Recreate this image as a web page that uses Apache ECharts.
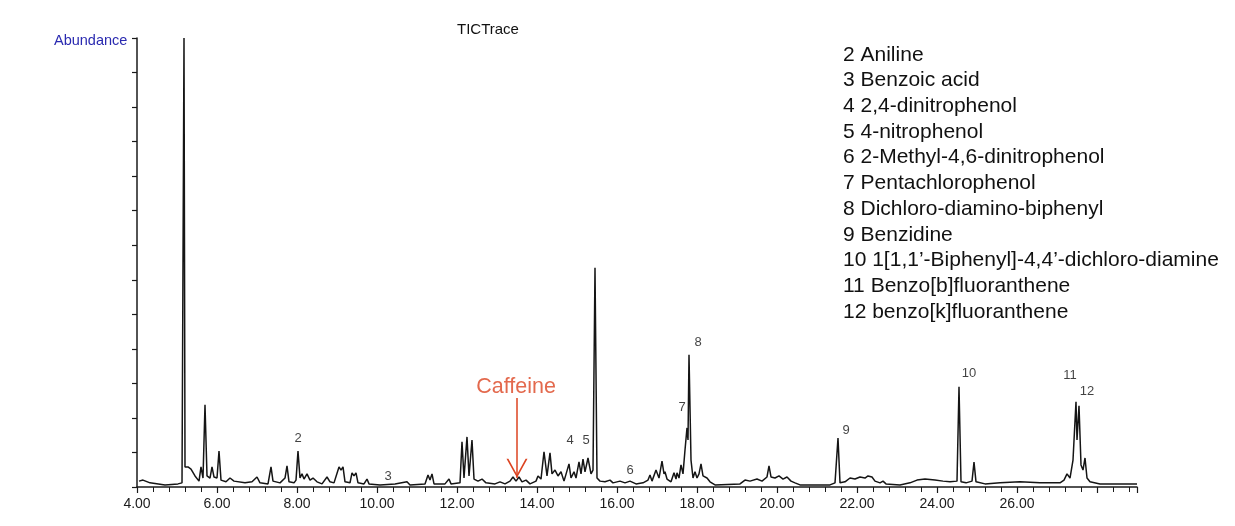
<!DOCTYPE html>
<html>
<head>
<meta charset="utf-8">
<script src="https://cdn.jsdelivr.net/npm/echarts@6/dist/echarts.min.js"></script>
<style>html,body{margin:0;padding:0;background:#fff}#c{width:1235px;height:526px}</style>
</head>
<body>
<div id="c"></div>
<script>
// Retention time (min) and abundance (arbitrary units)
const retentionTimes = [4.05,4.15,4.325,4.70,5.025,5.125,5.175,5.20,5.275,5.35,5.45,5.55,5.60,5.65,5.70,5.75,5.825,5.875,5.925,6.00,6.05,6.10,6.225,6.325,6.425,6.70,6.875,7.00,7.075,7.275,7.35,7.40,7.575,7.70,7.75,7.80,7.925,7.975,8.025,8.075,8.125,8.175,8.25,8.325,8.40,8.50,8.625,8.75,8.825,8.925,9.05,9.10,9.15,9.20,9.325,9.375,9.425,9.475,9.525,9.675,9.75,9.80,10.075,10.45,10.75,10.825,11.20,11.275,11.325,11.375,11.425,11.70,11.80,11.85,12.075,12.125,12.175,12.25,12.30,12.375,12.425,12.525,12.625,12.725,12.95,13.075,13.20,13.325,13.40,13.475,13.55,13.625,13.725,13.825,13.975,14.025,14.10,14.175,14.25,14.325,14.375,14.45,14.525,14.60,14.675,14.725,14.80,14.85,14.925,14.975,15.05,15.10,15.15,15.20,15.275,15.35,15.40,15.45,15.50,15.575,15.70,15.825,15.90,16.075,16.20,16.325,16.475,16.65,16.775,16.825,16.875,16.975,17.05,17.125,17.175,17.20,17.25,17.35,17.425,17.475,17.50,17.55,17.60,17.65,17.70,17.75,17.775,17.80,17.85,17.90,17.95,18.00,18.05,18.10,18.15,18.25,18.325,18.45,19.075,19.20,19.325,19.50,19.625,19.75,19.80,19.85,19.95,20.05,20.15,20.25,20.35,20.45,20.575,21.325,21.45,21.525,21.575,21.70,21.825,21.95,22.075,22.20,22.275,22.375,22.45,22.575,22.65,22.725,23.075,23.325,23.50,23.70,23.95,24.15,24.325,24.50,24.55,24.60,24.725,24.875,24.925,24.975,25.20,25.575,26.075,26.575,27.075,27.175,27.25,27.325,27.40,27.475,27.50,27.55,27.60,27.65,27.70,27.75,27.825,28.075,28.575,29.0];
const abundances = [17,20,12,6,9,12,1300,58,58,52,32,17,58,26,238,32,26,58,29,26,104,20,15,26,17,12,15,29,12,9,58,17,12,26,61,15,12,20,104,26,38,23,38,20,26,15,9,29,15,12,58,49,58,15,12,41,32,41,12,9,23,9,6,9,15,6,9,35,20,38,9,9,23,9,12,131,26,145,32,136,23,17,23,12,9,15,9,17,29,17,29,15,20,9,17,32,23,102,32,99,38,49,32,44,17,12,67,26,44,26,73,38,81,44,84,38,49,635,26,17,15,20,12,17,12,17,9,12,20,35,17,49,26,75,38,44,23,15,41,23,41,26,64,38,107,171,136,383,78,26,44,26,38,67,32,26,15,6,9,20,17,23,17,29,61,29,26,32,23,29,17,12,6,6,12,142,12,15,26,23,29,26,32,29,17,12,17,9,6,12,20,23,20,17,15,17,290,15,12,17,72,15,9,12,15,12,12,20,38,26,78,247,136,235,64,49,84,26,15,9,9,9];

const peakLabels = ['2','3','4','5','6','7','8','9','10','11','12'];
const peakLabelTimes = [8.025,10.275,14.825,15.225,16.325,17.625,18.025,21.725,24.80,27.325,27.75];
const peakLabelAbund = [142,32,136,136,49,229,418,165,328,322,276];

const compoundNames = [
  '2 Aniline','3 Benzoic acid','4 2,4-dinitrophenol','5 4-nitrophenol',
  '6 2-Methyl-4,6-dinitrophenol','7 Pentachlorophenol','8 Dichloro-diamino-biphenyl',
  '9 Benzidine','10 1[1,1\u2019-Biphenyl]-4,4\u2019-dichloro-diamine',
  '11 Benzo[b]fluoranthene','12 benzo[k]fluoranthene'
];
const caffeine = {name:'Caffeine', time:13.5, labelAbund:290, arrowFrom:258, arrowTo:26, headCenter:54};
const xTickLabels = ['4.00','6.00','8.00','10.00','12.00','14.00','16.00','18.00','20.00','22.00','24.00','26.00'];

const traceData = retentionTimes.map((t,i)=>[t,abundances[i]]);
const labelData = peakLabels.map((n,i)=>({name:n, value:[peakLabelTimes[i], peakLabelAbund[i]]}));
const FONT = '"Liberation Sans", Arial, sans-serif';
const RED = '#dc4320';

const chart = echarts.init(document.getElementById('c'), null, {renderer:'canvas'});
chart.setOption({
  animation:false,
  backgroundColor:'#fff',
  grid:{left:137, right:98, top:38, bottom:39},
  xAxis:{
    type:'value', min:4, max:29, interval:2,
    axisLine:{lineStyle:{color:'#1a1a1a', width:1.5}},
    axisTick:{show:true, length:6, lineStyle:{color:'#1a1a1a', width:1.2}},
    minorTick:{show:true, splitNumber:5, length:5, lineStyle:{color:'#1a1a1a', width:1}},
    splitLine:{show:false},
    axisLabel:{
      margin:10, color:'#1a1a1a', fontFamily:FONT, fontSize:14,
      formatter:function(v){const s=v.toFixed(2); return xTickLabels.indexOf(s)>=0?s:'';}
    }
  },
  yAxis:{
    type:'value', min:0, max:1300, interval:100,
    axisLine:{show:true, lineStyle:{color:'#1a1a1a', width:1.5}},
    axisTick:{show:true, length:5, lineStyle:{color:'#1a1a1a', width:1.2}},
    axisLabel:{show:false},
    splitLine:{show:false}
  },
  series:[
    {
      type:'line', data:traceData, showSymbol:false, symbol:'none', clip:true,
      lineStyle:{color:'#151515', width:1.5},
      markLine:{
        silent:true, symbol:['none','none'],
        lineStyle:{color:RED, width:1.5, type:'solid'},
        label:{show:false},
        data:[[{coord:[caffeine.time, caffeine.arrowFrom]},{coord:[caffeine.time, caffeine.arrowTo]}]]
      },
      markPoint:{
        silent:true,
        symbol:'path://M0,0 L5,10 L10,0 L9.1,0 L5,8.2 L0.9,0 Z',
        symbolSize:[21,19],
        itemStyle:{color:RED},
        label:{show:false},
        data:[{coord:[caffeine.time, caffeine.headCenter]}]
      }
    },
    {
      type:'scatter', data:labelData, symbolSize:0, silent:true,
      label:{show:true, position:'inside', formatter:'{b}', color:'#111', fontFamily:FONT, fontSize:13}
    },
    {
      type:'scatter', data:[{name:caffeine.name, value:[caffeine.time-0.025, caffeine.labelAbund]}], symbolSize:0, silent:true,
      label:{show:true, position:'inside', formatter:'{b}', color:RED, fontFamily:FONT, fontSize:21.5}
    }
  ],
  graphic:[
    {type:'text', left:457, top:22, style:{text:'TICTrace', fill:'#111', font:'15px '+FONT}},
    {type:'text', left:54, top:33, style:{text:'Abundance', fill:'#2a2ab0', font:'14.5px '+FONT}},
    {type:'text', left:843, top:42, style:{text:compoundNames.join('\n'), fill:'#111', font:'21px '+FONT, lineHeight:25.7}}
  ]
});
</script>
</body>
</html>
